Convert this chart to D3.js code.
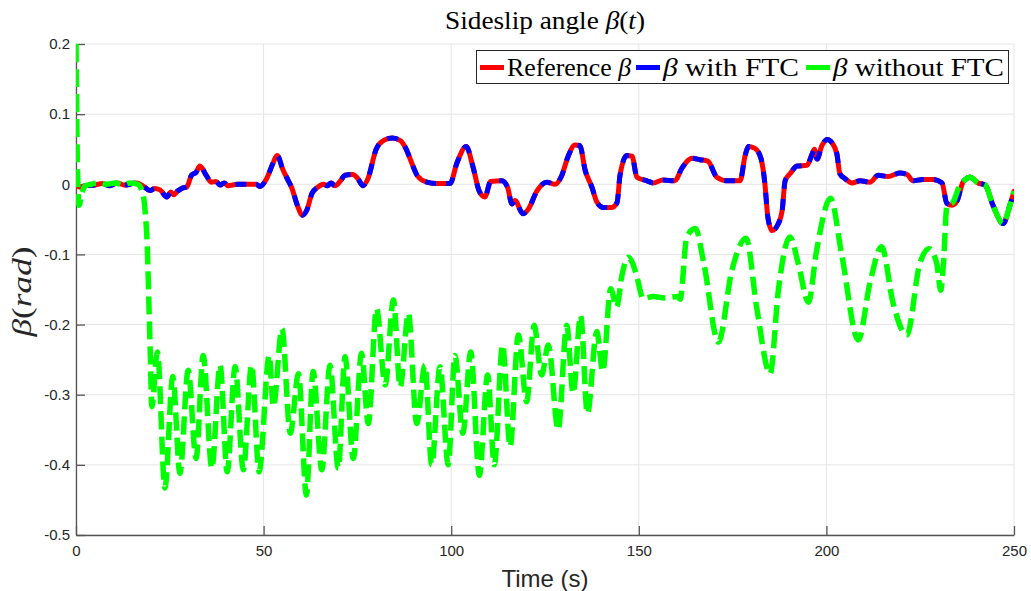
<!DOCTYPE html>
<html>
<head>
<meta charset="utf-8">
<script src="https://cdn.jsdelivr.net/npm/d3@7"></script>
<style>
  body { margin: 0; background: #fff; }
  svg { display: block; }
</style>
</head>
<body>
<script>
// values: [time (s), beta (rad)]
let refData = [
  [0, 0], [0.8, -0.004], [2.5, -0.002], [5, -0.001], [7, 0.001], [9, -0.002], [11, 0.002],
  [13, -0.001], [15, 0.001], [16.3, 0.002], [18, -0.003], [19.7, -0.009], [21, -0.006],
  [22.4, -0.008], [24.2, -0.018], [25.3, -0.011], [26, -0.015], [27, -0.010], [28.5, -0.005],
  [29.5, -0.004], [30.8, 0.013], [32, 0.017], [33, 0.026], [34.8, 0.012], [36, 0.003],
  [37.3, 0.004], [38.4, -0.001], [39.5, 0.002], [40.5, -0.002], [43, 0], [46, 0], [48, 0],
  [49, -0.003], [50.8, 0.008], [52.5, 0.030], [53.6, 0.041], [55.2, 0.020], [56.5, 0.006],
  [57.5, -0.005], [59, -0.030], [60.3, -0.044], [61.5, -0.037], [62.9, -0.013], [64.5, -0.004],
  [66, 0], [67, -0.002], [68, 0.002], [69, -0.002], [70.5, 0.005], [71.7, 0.013], [73.8, 0.014],
  [75, 0.009], [76.5, -0.002], [77.8, 0.008], [80, 0.050], [81.8, 0.062], [84.3, 0.066],
  [86.5, 0.062], [88, 0.050], [89.5, 0.030], [91, 0.012], [93.5, 0.003], [96, 0.001],
  [99.7, 0.001], [101.5, 0.030], [104, 0.054], [105.8, 0.025], [107.5, -0.010], [109, -0.018],
  [110.5, 0.004], [113.5, 0.005], [115, -0.004], [116.2, -0.028], [117, -0.023], [119.1, -0.042],
  [120.5, -0.036], [122.9, -0.009], [125.5, 0.003], [127.7, 0], [129.5, 0.013], [131.1, 0.039],
  [133, 0.056], [134.3, 0.055], [135.7, 0.020], [137.5, -0.004], [138.8, -0.025], [140.5, -0.033],
  [142.8, -0.033], [144.2, -0.026], [145, 0.013], [146.8, 0.041], [148.2, 0.040], [149.5, 0.010],
  [152.2, 0.005], [153.8, 0.002], [156.4, 0.006], [159.6, 0.005], [161.5, 0.023], [164.2, 0.037],
  [166.3, 0.035], [168.4, 0.033], [170.8, 0.010], [173.5, 0.005], [177, 0.005], [178.3, 0.040],
  [179.3, 0.054], [181, 0.051], [182.6, 0.036], [183.6, 0.001], [184.4, -0.047], [185.5, -0.066],
  [187.1, -0.057], [188.2, -0.038], [189, 0.005], [190.3, 0.015], [192.2, 0.026], [194.8, 0.027],
  [196.2, 0.043], [196.8, 0.050], [197.5, 0.036], [198.8, 0.055], [200.2, 0.064], [201.5, 0.059],
  [202.8, 0.043], [203.6, 0.015], [205, 0.008], [206.8, 0.002], [209, 0.005], [211.6, 0.003],
  [213.8, 0.013], [216.4, 0.011], [219.6, 0.016], [221.5, 0.014], [223.1, 0.005], [225.7, 0.007],
  [228.4, 0.007], [230.8, 0.002], [232.1, -0.027], [233.5, -0.030], [234.8, -0.024], [236.4, 0.003],
  [238.3, 0.010], [240.4, 0.002], [242.3, -0.001], [244.4, -0.030], [247.1, -0.056], [248.9, -0.030],
  [250, -0.010]
];

// with FTC follows the reference after a short start transient
let ftcStart = [[0, 0.048], [0.4, 0.004]];
let ftcData = ftcStart.concat(refData.slice(1));

let noFtcData = [
  [0, 0.2], [0.4, 0.02], [0.8, -0.030], [1.6, -0.012], [2.5, -0.002], [4, 0], [6, 0.002], [8, 0],
  [10.5, 0.002], [12.5, -0.001], [14.5, 0.002], [16.5, 0], [17.5, -0.008], [18.4, -0.037],
  [19, -0.089], [19.5, -0.184], [19.8, -0.240], [20.2, -0.317], [21.7, -0.239], [23.7, -0.433],
  [25.8, -0.274], [27.7, -0.412], [29.9, -0.265], [32, -0.391], [33.9, -0.244], [36.2, -0.405],
  [38.4, -0.258], [40.3, -0.410], [42.4, -0.260], [44.6, -0.407], [46.8, -0.258], [48.8, -0.410],
  [51.5, -0.244], [52.6, -0.317], [54.9, -0.206], [57.1, -0.355], [59.3, -0.270], [61.4, -0.443],
  [63.2, -0.267], [65.5, -0.407], [67.7, -0.258], [69.9, -0.405], [71.7, -0.246], [73.9, -0.391],
  [76.1, -0.241], [77.9, -0.341], [80.1, -0.177], [82.4, -0.286], [84.6, -0.165], [86.4, -0.289],
  [88.6, -0.184], [90.8, -0.341], [93, -0.258], [94.8, -0.400], [97, -0.260], [99.2, -0.400],
  [101, -0.244], [103.1, -0.355], [105.2, -0.239], [107.5, -0.415], [109.7, -0.272], [111.5, -0.400],
  [113.7, -0.229], [115.7, -0.374], [117.9, -0.215], [120.1, -0.310], [122.1, -0.201], [124.1, -0.272],
  [125.9, -0.229], [128.5, -0.350], [130.8, -0.201], [132.5, -0.298], [134.5, -0.187], [136.3, -0.327],
  [138.8, -0.210], [140.4, -0.267], [142.5, -0.149], [144.1, -0.175], [145.5, -0.130], [147.2, -0.104],
  [148.3, -0.112], [149.4, -0.130], [151.2, -0.163], [153.8, -0.160], [157, -0.162], [160.4, -0.160],
  [161, -0.164], [162.8, -0.075], [165.1, -0.063], [167.4, -0.115], [171.2, -0.225], [174.8, -0.123],
  [178.6, -0.077], [181.4, -0.175], [185, -0.270], [187.2, -0.151], [190.3, -0.075], [192.5, -0.113],
  [195.2, -0.168], [197.4, -0.094], [201.1, -0.020], [204.1, -0.101], [208.5, -0.222], [211.6, -0.141],
  [214.7, -0.089], [217.8, -0.170], [221.4, -0.215], [224.9, -0.113], [227.4, -0.092], [229.4, -0.113],
  [230.5, -0.151], [231.2, -0.113], [232.1, -0.032], [233.8, -0.025], [235.6, -0.001], [236.6, 0.005],
  [238.3, 0.010], [240.4, 0.002], [242.3, -0.001], [244.4, -0.030], [247.1, -0.056], [248.9, -0.030],
  [250, -0.010]
];

let xTicks = [0, 50, 100, 150, 200, 250];
let yTicks = [0.2, 0.1, 0, -0.1, -0.2, -0.3, -0.4, -0.5];
let yTickLabels = ["0.2", "0.1", "0", "-0.1", "-0.2", "-0.3", "-0.4", "-0.5"];

let W = 1031, H = 591;
let margin = {top: 44, right: 17, bottom: 56, left: 76},
    width = W - margin.left - margin.right,
    height = H - margin.top - margin.bottom;

let x = d3.scaleLinear().domain([0, 250]).range([0, width]);
let y = d3.scaleLinear().domain([-0.5, 0.2]).range([height, 0]);

let svg = d3.select("body").append("svg")
    .attr("width", W)
    .attr("height", H);

let g = svg.append("g")
    .attr("transform", "translate(" + margin.left + "," + margin.top + ")");

g.append("clipPath").attr("id", "clip")
  .append("rect").attr("x", 0).attr("y", 0).attr("width", width).attr("height", height);

// grid
g.append("g").selectAll("line").data(xTicks).enter().append("line")
  .attr("x1", d => x(d)).attr("x2", d => x(d))
  .attr("y1", 0).attr("y2", height)
  .attr("stroke", "#e5e5e5").attr("stroke-width", 1);
g.append("g").selectAll("line").data(yTicks).enter().append("line")
  .attr("x1", 0).attr("x2", width)
  .attr("y1", d => y(d)).attr("y2", d => y(d))
  .attr("stroke", "#e5e5e5").attr("stroke-width", 1);

// axes (ticks point inward, MATLAB style)
let xAxis = g.append("g")
  .attr("transform", "translate(0," + height + ")")
  .call(d3.axisBottom(x).tickValues(xTicks).tickFormat(d3.format("d"))
        .tickSizeInner(-9).tickSizeOuter(0).tickPadding(16));
let yAxis = g.append("g")
  .call(d3.axisLeft(y).tickValues(yTicks).tickFormat((d, i) => yTickLabels[i])
        .tickSizeInner(-9).tickSizeOuter(0).tickPadding(19));

[xAxis, yAxis].forEach(a => {
  a.select(".domain").attr("stroke", "#555").attr("stroke-width", 1.3);
  a.selectAll(".tick line").attr("stroke", "#555").attr("stroke-width", 1.3);
  a.selectAll(".tick text").attr("fill", "#262626")
    .style("font-family", "'Liberation Sans', Arial, sans-serif").style("font-size", "15px");
});
xAxis.selectAll(".tick text").attr("dy", "0.3em");
yAxis.selectAll(".tick text").attr("x", -6);

// lines
let line = d3.line()
  .x(d => x(d[0]))
  .y(d => y(d[1]))
  .curve(d3.curveMonotoneX);

let plot = g.append("g").attr("clip-path", "url(#clip)");

plot.append("path").datum(refData)
  .attr("d", line).attr("fill", "none")
  .attr("stroke", "#ff0000").attr("stroke-width", 5)
  .attr("stroke-linejoin", "round").attr("stroke-linecap", "round");

plot.append("path").datum(ftcData)
  .attr("d", line).attr("fill", "none")
  .attr("stroke", "#0000ff").attr("stroke-width", 5)
  .attr("stroke-dasharray", "11,10");

plot.append("path").datum(noFtcData)
  .attr("d", line).attr("fill", "none")
  .attr("stroke", "#00ff00").attr("stroke-width", 5.5)
  .attr("stroke-dasharray", "18,7");

// title
let serif = "'Liberation Serif', 'Times New Roman', serif";
let title = svg.append("text")
  .attr("x", 545).attr("y", 29)
  .attr("text-anchor", "middle")
  .attr("textLength", 200).attr("lengthAdjust", "spacingAndGlyphs")
  .style("font-family", serif).style("font-size", "25px").attr("fill", "#000");
title.append("tspan").text("Sideslip angle ");
title.append("tspan").style("font-style", "italic").text("β");
title.append("tspan").text("(");
title.append("tspan").style("font-style", "italic").text("t");
title.append("tspan").text(")");

// axis labels
svg.append("text")
  .attr("x", margin.left + width / 2).attr("y", 587)
  .attr("text-anchor", "middle")
  .style("font-family", "'Liberation Sans', Arial, sans-serif").style("font-size", "24px")
  .attr("fill", "#262626")
  .text("Time (s)");

let yl = svg.append("text")
  .attr("transform", "translate(31," + (margin.top + height / 2 + 2) + ") rotate(-90)")
  .attr("text-anchor", "middle")
  .attr("textLength", 90).attr("lengthAdjust", "spacingAndGlyphs")
  .style("font-family", serif).style("font-size", "27px").attr("fill", "#262626");
yl.append("tspan").style("font-style", "italic").text("β");
yl.append("tspan").text("(");
yl.append("tspan").style("font-style", "italic").text("rad");
yl.append("tspan").text(")");

// legend
let legendItems = [
  {color: "#ff0000", parts: [["Reference ", false], ["β", true]], x: 480, len: 124},
  {color: "#0000ff", parts: [["β", true], [" with FTC", false]], x: 636, len: 136},
  {color: "#00ff00", parts: [["β", true], [" without FTC", false]], x: 806, len: 171}
];
let legend = svg.append("g");
legend.append("rect")
  .attr("x", 476.5).attr("y", 50.5).attr("width", 532).attr("height", 33)
  .attr("fill", "#fff").attr("stroke", "#262626").attr("stroke-width", 1);
legendItems.forEach(it => {
  legend.append("line")
    .attr("x1", it.x).attr("x2", it.x + 24)
    .attr("y1", 67.5).attr("y2", 67.5)
    .attr("stroke", it.color).attr("stroke-width", 5);
  let t = legend.append("text")
    .attr("x", it.x + 27).attr("y", 76)
    .attr("textLength", it.len).attr("lengthAdjust", "spacingAndGlyphs")
    .style("font-family", serif).style("font-size", "26px").attr("fill", "#000");
  it.parts.forEach(p => {
    t.append("tspan").style("font-style", p[1] ? "italic" : "normal").text(p[0]);
  });
});
</script>
</body>
</html>
